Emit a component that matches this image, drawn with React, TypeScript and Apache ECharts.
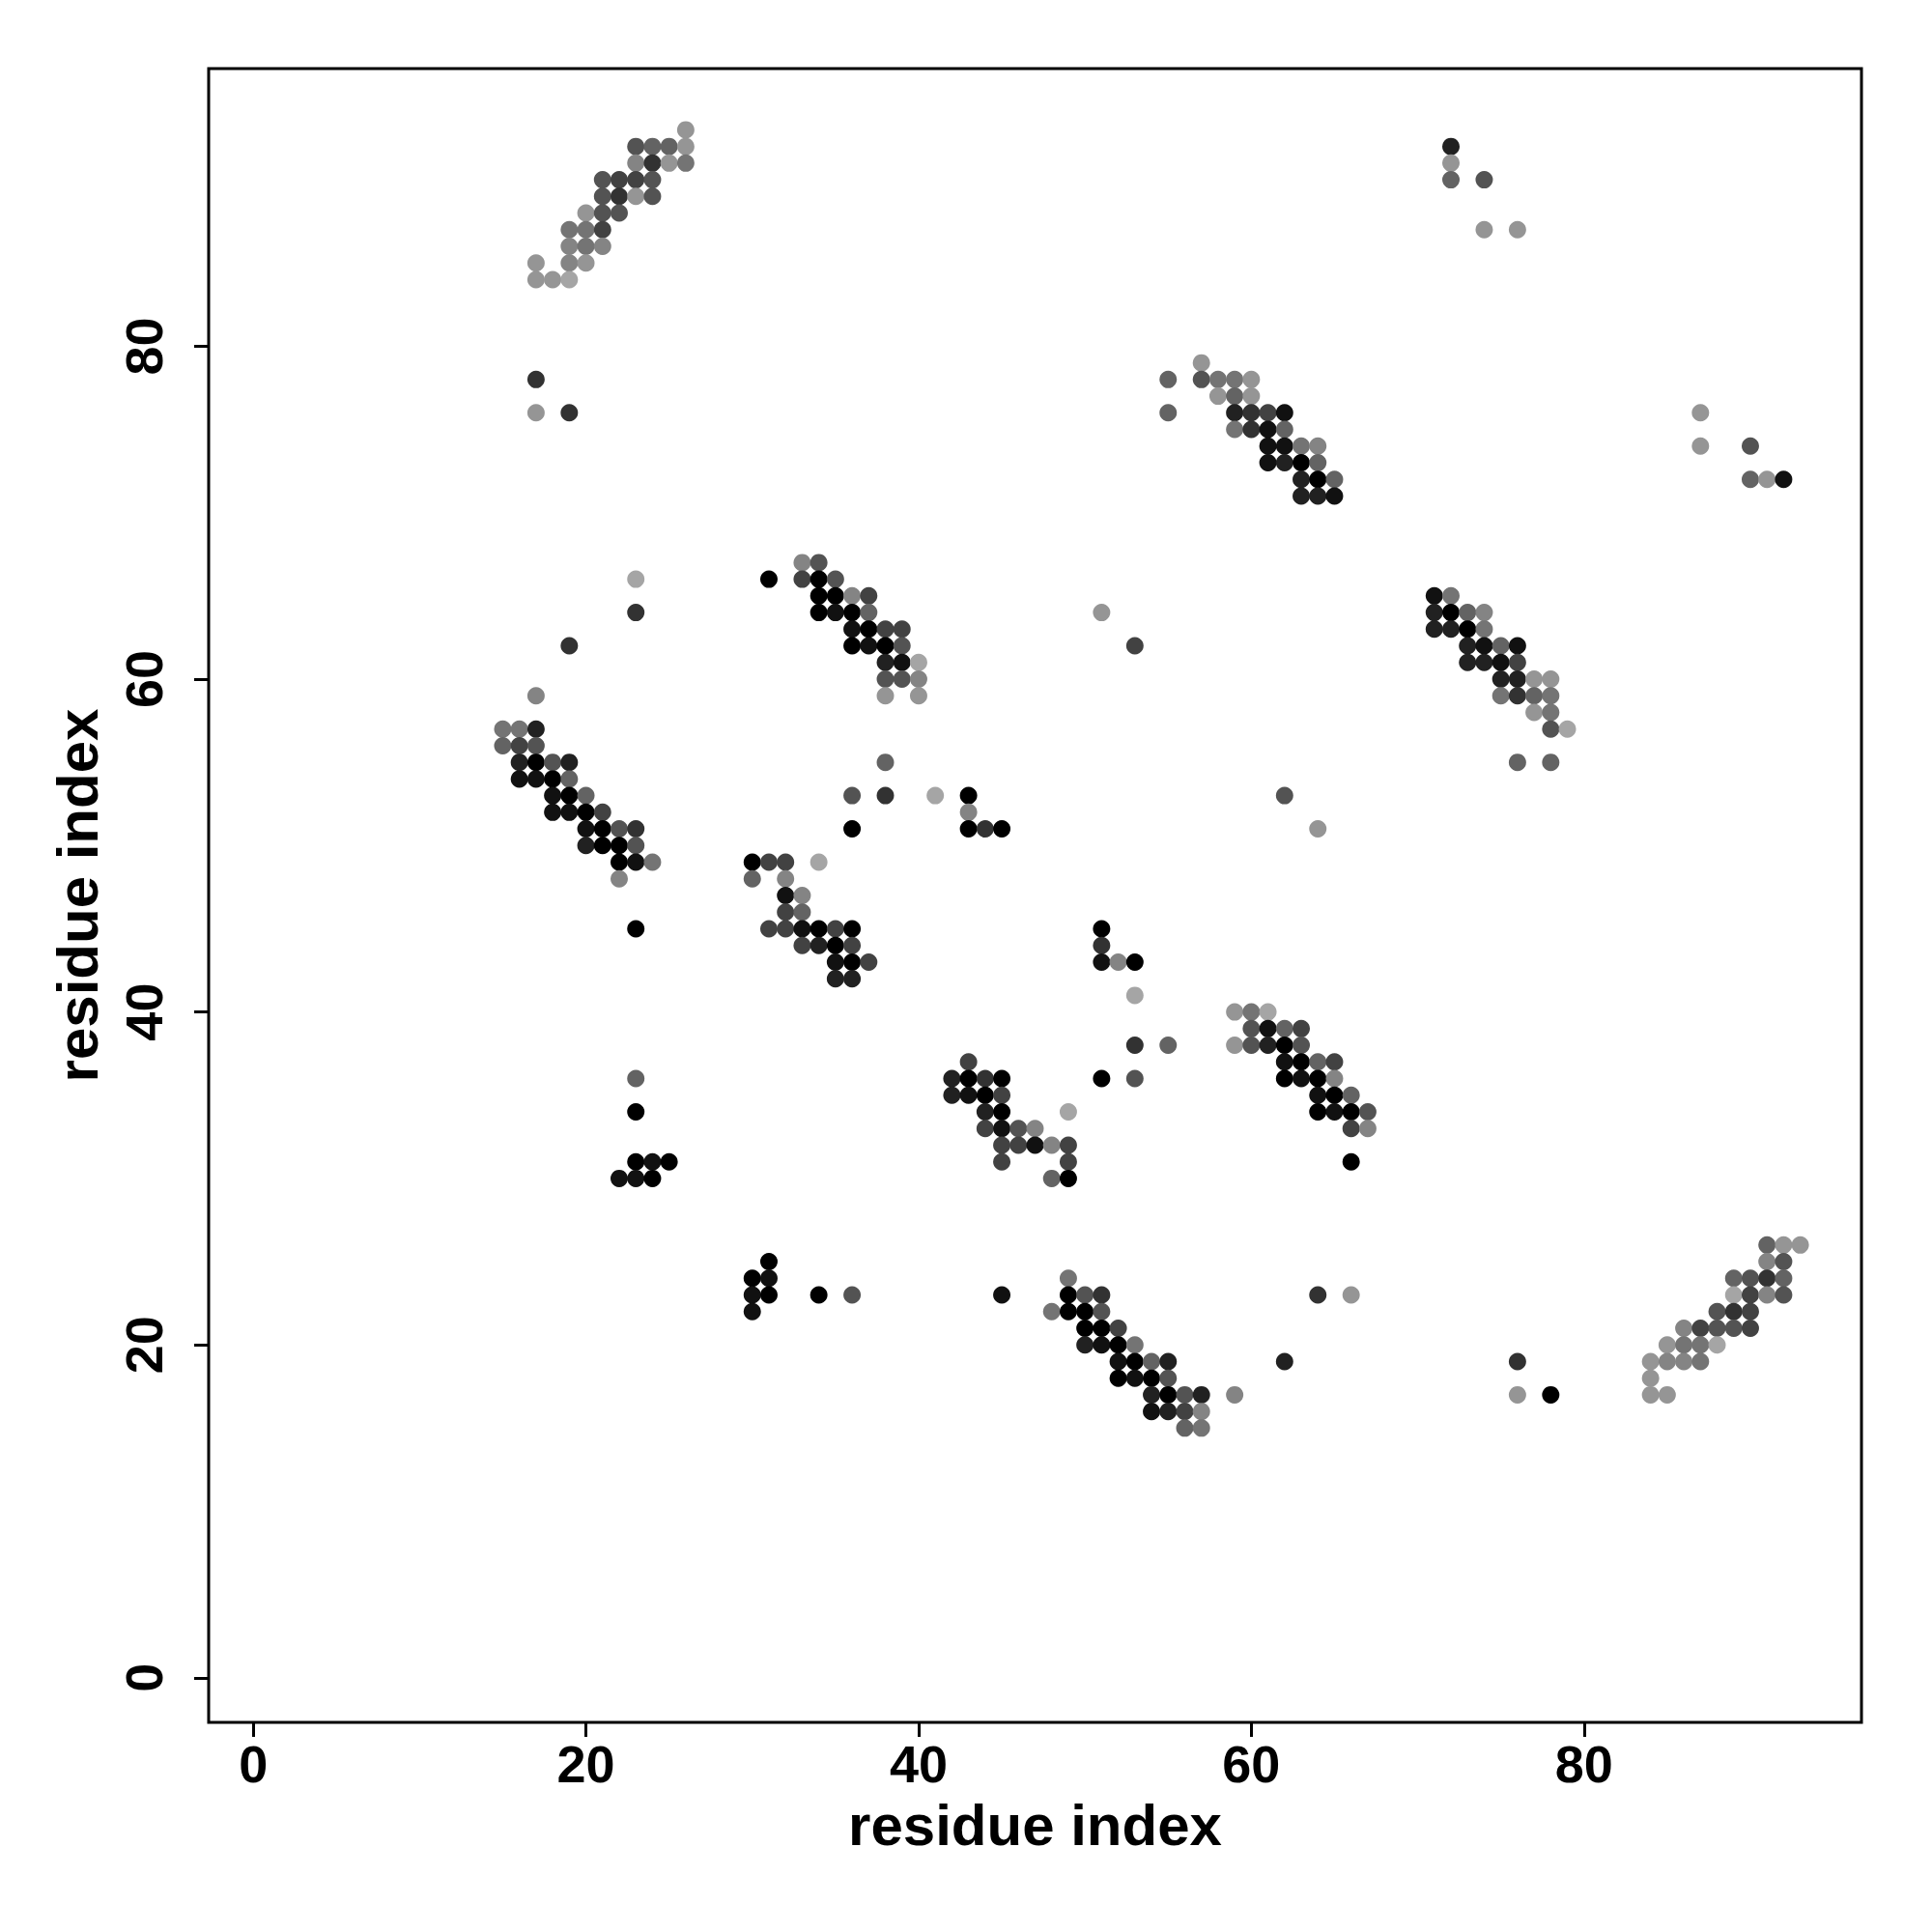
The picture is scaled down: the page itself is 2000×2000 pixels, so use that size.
import React, { useEffect, useRef } from "react";
import * as echarts from "echarts";

// Axis range (R-style 4% expansion of [1, 93])
const axisMin = -2.68;
const axisMax = 96.68;
const tickValues = [0, 20, 40, 60, 80];
const xTitle = "residue index";
const yTitle = "residue index";

// contacts: [residue i, residue j, shade level 0 (black) .. 10 (light gray)]
const contactsTopLeft: number[][] = [
  [26, 93, 9],
  [23, 92, 5], [24, 92, 6], [25, 92, 6], [26, 92, 9],
  [23, 91, 8], [24, 91, 3], [25, 91, 9], [26, 91, 7],
  [21, 90, 5], [22, 90, 4], [23, 90, 4], [24, 90, 5],
  [21, 89, 5], [22, 89, 3], [23, 89, 9], [24, 89, 5],
  [20, 88, 9], [21, 88, 5], [22, 88, 5],
  [19, 87, 7], [20, 87, 7], [21, 87, 4],
  [19, 86, 8], [20, 86, 7], [21, 86, 8],
  [17, 85, 9], [19, 85, 8], [20, 85, 9],
  [17, 84, 9], [18, 84, 9], [19, 84, 10],
  [17, 78, 3], [17, 76, 9], [19, 76, 3],
];

const contactsLeft: number[][] = [
  [23, 66, 10], [23, 64, 3], [19, 62, 3], [17, 59, 8],
  [15, 57, 7], [16, 57, 7], [17, 57, 2],
  [15, 56, 6], [16, 56, 4], [17, 56, 5],
  [16, 55, 2], [17, 55, 0], [18, 55, 5], [19, 55, 2],
  [16, 54, 1], [17, 54, 1], [18, 54, 0], [19, 54, 6],
  [18, 53, 1], [19, 53, 0], [20, 53, 6],
  [18, 52, 1], [19, 52, 1], [20, 52, 0], [21, 52, 4],
  [20, 51, 1], [21, 51, 0], [22, 51, 5], [23, 51, 3],
  [20, 50, 2], [21, 50, 0], [22, 50, 0], [23, 50, 5],
  [22, 49, 0], [23, 49, 1], [24, 49, 7],
  [22, 48, 8],
  [23, 45, 0],
  [23, 36, 6], [23, 34, 0],
  [23, 31, 0], [24, 31, 1], [25, 31, 0],
  [22, 30, 1], [23, 30, 1], [24, 30, 0],
];

const contactsMiddleLeft: number[][] = [
  [33, 67, 8], [34, 67, 5],
  [31, 66, 0], [33, 66, 4], [34, 66, 0], [35, 66, 5],
  [34, 65, 0], [35, 65, 0], [36, 65, 8], [37, 65, 4],
  [34, 64, 0], [35, 64, 1], [36, 64, 0], [37, 64, 6],
  [36, 63, 1], [37, 63, 0], [38, 63, 4], [39, 63, 4],
  [36, 62, 0], [37, 62, 1], [38, 62, 0], [39, 62, 5],
  [38, 61, 2], [39, 61, 1], [40, 61, 10],
  [38, 60, 5], [39, 60, 5], [40, 60, 8],
  [38, 59, 9], [40, 59, 9],
  [38, 55, 6],
  [36, 53, 5], [38, 53, 3], [41, 53, 10],
  [36, 51, 0],
  [30, 49, 0], [31, 49, 4], [32, 49, 4], [34, 49, 10],
  [30, 48, 6], [32, 48, 8],
  [32, 47, 1], [33, 47, 8],
  [32, 46, 4], [33, 46, 6],
  [31, 45, 4], [32, 45, 4], [33, 45, 1], [34, 45, 0], [35, 45, 4], [36, 45, 0],
  [33, 44, 4], [34, 44, 2], [35, 44, 0], [36, 44, 4],
  [35, 43, 1], [36, 43, 0], [37, 43, 4],
  [35, 42, 2], [36, 42, 2],
  [31, 25, 0], [30, 24, 0], [31, 24, 1], [30, 23, 1], [31, 23, 0],
  [34, 23, 0], [36, 23, 5], [45, 23, 1], [30, 22, 1],
];

const contactsCentre: number[][] = [
  [43, 53, 0], [43, 52, 8], [43, 51, 0], [44, 51, 3], [45, 51, 0],
  [51, 45, 0], [51, 44, 3], [51, 43, 1], [52, 43, 8], [53, 43, 0], [53, 41, 10],
  [53, 38, 3], [55, 38, 6], [51, 36, 0], [53, 36, 5],
  [43, 37, 4],
  [42, 36, 2], [43, 36, 0], [44, 36, 3], [45, 36, 0],
  [42, 35, 2], [43, 35, 1], [44, 35, 0], [45, 35, 4],
  [44, 34, 2], [45, 34, 0], [49, 34, 10],
  [44, 33, 4], [45, 33, 1], [46, 33, 5], [47, 33, 8],
  [45, 32, 4], [46, 32, 4], [47, 32, 1], [48, 32, 8], [49, 32, 4],
  [45, 31, 4], [49, 31, 4],
  [48, 30, 6], [49, 30, 0],
  [51, 64, 9], [53, 62, 4], [62, 53, 5], [64, 51, 9],
];

const contactsLowerMiddle: number[][] = [
  [49, 24, 7],
  [49, 23, 0], [50, 23, 5], [51, 23, 3],
  [48, 22, 7], [49, 22, 0], [50, 22, 0], [51, 22, 5],
  [50, 21, 0], [51, 21, 0], [52, 21, 4],
  [50, 20, 2], [51, 20, 1], [52, 20, 0], [53, 20, 7],
  [52, 19, 1], [53, 19, 0], [54, 19, 6], [55, 19, 2],
  [52, 18, 0], [53, 18, 1], [54, 18, 0], [55, 18, 5],
  [54, 17, 2], [55, 17, 0], [56, 17, 5], [57, 17, 2], [59, 17, 8],
  [54, 16, 1], [55, 16, 2], [56, 16, 4], [57, 16, 8],
  [56, 15, 6], [57, 15, 7],
  [62, 19, 2], [64, 23, 3], [66, 23, 9], [76, 19, 3], [76, 17, 9], [78, 17, 0],
];

const contactsUpperMiddle: number[][] = [
  [57, 79, 9],
  [55, 78, 6], [57, 78, 5], [58, 78, 7], [59, 78, 7], [60, 78, 9],
  [58, 77, 9], [59, 77, 6], [60, 77, 9],
  [55, 76, 6], [59, 76, 2], [60, 76, 3], [61, 76, 4], [62, 76, 1],
  [59, 75, 7], [60, 75, 3], [61, 75, 1], [62, 75, 6],
  [61, 74, 1], [62, 74, 1], [63, 74, 7], [64, 74, 8],
  [61, 73, 1], [62, 73, 2], [63, 73, 0], [64, 73, 6],
  [63, 72, 2], [64, 72, 0], [65, 72, 6],
  [63, 71, 2], [64, 71, 2], [65, 71, 1],
];

const contactsMiddleRight: number[][] = [
  [59, 40, 9], [60, 40, 7], [61, 40, 10],
  [60, 39, 5], [61, 39, 1], [62, 39, 6], [63, 39, 4],
  [59, 38, 9], [60, 38, 5], [61, 38, 2], [62, 38, 0], [63, 38, 5],
  [62, 37, 1], [63, 37, 0], [64, 37, 6], [65, 37, 4],
  [62, 36, 0], [63, 36, 1], [64, 36, 0], [65, 36, 8],
  [64, 35, 1], [65, 35, 0], [66, 35, 6],
  [64, 34, 0], [65, 34, 1], [66, 34, 0], [67, 34, 5],
  [66, 33, 4], [67, 33, 8],
  [66, 31, 0],
  [71, 65, 1], [72, 65, 7],
  [71, 64, 2], [72, 64, 0], [73, 64, 6], [74, 64, 8],
  [71, 63, 2], [72, 63, 2], [73, 63, 0], [74, 63, 7],
  [73, 62, 2], [74, 62, 1], [75, 62, 6], [76, 62, 1],
  [73, 61, 2], [74, 61, 2], [75, 61, 1], [76, 61, 4],
  [75, 60, 2], [76, 60, 2], [77, 60, 9], [78, 60, 9],
  [75, 59, 7], [76, 59, 3], [77, 59, 6], [78, 59, 7],
  [77, 58, 9], [78, 58, 7],
  [78, 57, 5], [79, 57, 10],
  [76, 55, 6], [78, 55, 6],
];

const contactsRight: number[][] = [
  [91, 26, 6], [92, 26, 9], [93, 26, 9],
  [91, 25, 8], [92, 25, 5],
  [89, 24, 6], [90, 24, 5], [91, 24, 3], [92, 24, 6],
  [89, 23, 10], [90, 23, 4], [91, 23, 8], [92, 23, 5],
  [88, 22, 5], [89, 22, 3], [90, 22, 4],
  [86, 21, 8], [87, 21, 4], [88, 21, 5], [89, 21, 5], [90, 21, 4],
  [85, 20, 9], [86, 20, 7], [87, 20, 7], [88, 20, 10],
  [84, 19, 9], [85, 19, 8], [86, 19, 8], [87, 19, 7],
  [84, 18, 9],
  [84, 17, 9], [85, 17, 9],
  [72, 92, 2], [72, 91, 9], [72, 90, 6], [74, 90, 5], [74, 87, 9], [76, 87, 9],
  [87, 76, 9], [87, 74, 9], [90, 74, 5], [90, 72, 6], [91, 72, 9], [92, 72, 1],
];

const allContacts = [
  ...contactsTopLeft,
  ...contactsLeft,
  ...contactsMiddleLeft,
  ...contactsCentre,
  ...contactsLowerMiddle,
  ...contactsUpperMiddle,
  ...contactsMiddleRight,
  ...contactsRight,
];

function shade(level: number): string {
  const g = Math.round(Math.min(165, level * 16.5));
  return `rgb(${g},${g},${g})`;
}

const FONT = "'Liberation Sans', Arial, Helvetica, sans-serif";

export default function App() {
  const ref = useRef<HTMLDivElement>(null);

  useEffect(() => {
    if (!ref.current) return;
    const chart = echarts.init(ref.current, null, { renderer: "svg" });
    const axisCommon = {
      type: "value" as const,
      min: axisMin,
      max: axisMax,
      splitLine: { show: false },
      axisLine: { show: false, onZero: false },
      axisTick: {
        show: true,
        length: 15,
        customValues: tickValues,
        lineStyle: { color: "#000", width: 3 },
      },
      nameLocation: "middle" as const,
      nameTextStyle: {
        fontFamily: FONT,
        fontWeight: "bold" as const,
        fontSize: 60,
        color: "#000",
      },
    };
    chart.setOption({
      animation: false,
      backgroundColor: "#fff",
      grid: {
        left: 216,
        top: 71,
        right: 73,
        bottom: 217,
        show: true,
        borderColor: "#000",
        borderWidth: 3,
        backgroundColor: "transparent",
      },
      xAxis: {
        ...axisCommon,
        position: "bottom",
        name: xTitle,
        nameGap: 76,
        axisLabel: {
          customValues: tickValues,
          fontFamily: FONT,
          fontWeight: "bold",
          fontSize: 54,
          color: "#000",
          margin: 16,
        },
      },
      yAxis: {
        ...axisCommon,
        position: "left",
        name: yTitle,
        nameGap: 106,
        axisLabel: {
          customValues: tickValues,
          rotate: 90,
          fontFamily: FONT,
          fontWeight: "bold",
          fontSize: 54,
          color: "#000",
          margin: 40,
        },
      },
      series: [
        {
          type: "scatter",
          data: allContacts,
          encode: { x: 0, y: 1 },
          symbol: "circle",
          symbolSize: 18,
          itemStyle: {
            color: (p: any) => shade(p.data[2]),
            opacity: 1,
          },
        },
      ],
    });
    return () => chart.dispose();
  }, []);

  return (
    <div
      ref={ref}
      style={{ position: "absolute", left: 0, top: 0, width: 2000, height: 2000 }}
    />
  );
}
